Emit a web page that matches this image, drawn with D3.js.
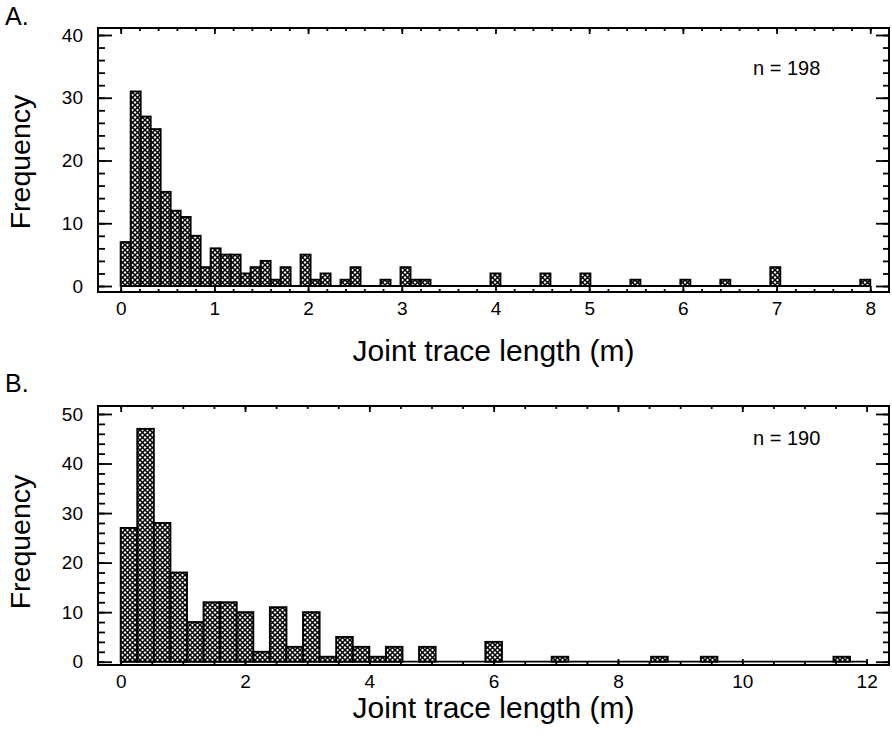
<!DOCTYPE html>
<html>
<head>
<meta charset="utf-8">
<script src="https://cdn.jsdelivr.net/npm/d3@7"></script>
<style>
	body { margin: 0; background: #fff; }
	svg { display: block; font-family: "Liberation Sans", Arial, Helvetica, sans-serif; }
</style>
</head>
<body>
<div id="chart"></div>
<script>
// panel A : 75 bins over 0-8 m
const countsA = [7, 31, 27, 25, 15, 12, 11, 8, 3, 6,
	5, 5, 2, 3, 4, 1, 3, 0, 5, 1,
	2, 0, 1, 3, 0, 0, 1, 0, 3, 1,
	1, 0, 0, 0, 0, 0, 0, 2, 0, 0,
	0, 0, 2, 0, 0, 0, 2, 0, 0, 0,
	0, 1, 0, 0, 0, 0, 1, 0, 0, 0,
	1, 0, 0, 0, 0, 3, 0, 0, 0, 0,
	0, 0, 0, 0, 1];
const rangeA = [0, 8];
const xTicksA = [0, 1, 2, 3, 4, 5, 6, 7, 8];
const yTicksA = [0, 10, 20, 30, 40];
const noteA = "n = 198";

// panel B : 45 bins over 0-12 m
const countsB = [27, 47, 28, 18, 8, 12, 12, 10, 2, 11,
	3, 10, 1, 5, 3, 1, 3, 0, 3, 0,
	0, 0, 4, 0, 0, 0, 1, 0, 0, 0,
	0, 0, 1, 0, 0, 1, 0, 0, 0, 0,
	0, 0, 0, 1, 0];
const rangeB = [0, 12];
const xTicksB = [0, 2, 4, 6, 8, 10, 12];
const yTicksB = [0, 10, 20, 30, 40, 50];
const noteB = "n = 190";

const xTitle = "Joint trace length (m)";
const yTitle = "Frequency";

const W = 892, H = 743;

const svg = d3.select("#chart").append("svg")
	.attr("width", W)
	.attr("height", H);

// crosshatch fill
const pat = svg.append("defs").append("pattern")
	.attr("id", "hatch")
	.attr("patternUnits", "userSpaceOnUse")
	.attr("width", 5)
	.attr("height", 5);
pat.append("rect").attr("width", 5).attr("height", 5).attr("fill", "#fff");
pat.append("path")
	.attr("d", "M-1,-1L6,6M6,-1L-1,6")
	.attr("stroke", "#000")
	.attr("stroke-width", 1.5);

function buildHist(cfg) {
	const box = cfg.box;
	const g = svg.append("g");

	const x = d3.scaleLinear().domain(cfg.xDomain).range([box.left, box.right]);
	const y = d3.scaleLinear().domain(cfg.yDomain).range([box.bottom, box.top]);

	const n = cfg.counts.length;
	const bw = (cfg.range[1] - cfg.range[0]) / n;
	const bins = cfg.counts.map((c, i) => ({ x0: cfg.range[0] + i * bw, x1: cfg.range[0] + (i + 1) * bw, c: c }));

	//baseline at zero
	g.append("line")
		.attr("x1", x(cfg.range[0]))
		.attr("x2", x(cfg.range[1]))
		.attr("y1", y(0))
		.attr("y2", y(0))
		.attr("stroke", "#000")
		.attr("stroke-width", 1.8);

	g.selectAll(".bar")
		.data(bins.filter(d => d.c > 0))
		.enter().append("rect")
		.attr("class", "bar")
		.attr("x", d => x(d.x0))
		.attr("y", d => y(d.c))
		.attr("width", d => x(d.x1) - x(d.x0))
		.attr("height", d => y(0) - y(d.c))
		.attr("fill", "url(#hatch)")
		.attr("stroke", "#000")
		.attr("stroke-width", 1.9);

	//frame
	g.append("rect")
		.attr("x", box.left)
		.attr("y", box.top)
		.attr("width", box.right - box.left)
		.attr("height", box.bottom - box.top)
		.attr("fill", "none")
		.attr("stroke", "#000")
		.attr("stroke-width", 2);

	const xMinor = d3.range(cfg.range[0], cfg.range[1] + 1e-9, cfg.xMinorStep);
	const yMinor = d3.range(0, d3.max(cfg.yTicks) + 1e-9, cfg.yMinorStep);

	function addAxis(axis, tf) {
		const a = g.append("g").attr("transform", tf).call(axis);
		a.select(".domain").remove();
		a.selectAll(".tick line").attr("stroke-width", 1.8);
		a.selectAll("text")
			.attr("font-size", 19)
			.attr("font-family", "'Liberation Sans', Arial, sans-serif")
			.attr("fill", "#000");
		return a;
	}

	addAxis(d3.axisBottom(x).tickValues(cfg.xTicks).tickSize(-6).tickPadding(10).tickFormat(d3.format("d")), `translate(0,${box.bottom})`);
	addAxis(d3.axisBottom(x).tickValues(xMinor).tickSize(-3).tickFormat(""), `translate(0,${box.bottom})`);
	addAxis(d3.axisTop(x).tickValues(cfg.xTicks).tickSize(-6).tickFormat(""), `translate(0,${box.top})`);
	addAxis(d3.axisTop(x).tickValues(xMinor).tickSize(-3).tickFormat(""), `translate(0,${box.top})`);

	addAxis(d3.axisLeft(y).tickValues(cfg.yTicks).tickSize(-14).tickPadding(15).tickFormat(d3.format("d")), `translate(${box.left},0)`);
	addAxis(d3.axisLeft(y).tickValues(yMinor).tickSize(-7).tickFormat(""), `translate(${box.left},0)`);
	addAxis(d3.axisRight(y).tickValues(cfg.yTicks).tickSize(-13).tickFormat(""), `translate(${box.right},0)`);
	addAxis(d3.axisRight(y).tickValues(yMinor).tickSize(-6).tickFormat(""), `translate(${box.right},0)`);

	//texts
	g.append("text")
		.attr("x", (box.left + box.right) / 2)
		.attr("y", cfg.xTitleY)
		.attr("text-anchor", "middle")
		.attr("font-size", 30)
		.text(xTitle);

	g.append("text")
		.attr("transform", `translate(30,${cfg.yTitleY}) rotate(-90)`)
		.attr("text-anchor", "middle")
		.attr("font-size", 28.5)
		.text(yTitle);

	g.append("text")
		.attr("x", 5)
		.attr("y", cfg.panelY)
		.attr("font-size", 25)
		.text(cfg.panel);

	g.append("text")
		.attr("x", 753)
		.attr("y", cfg.noteY)
		.attr("font-size", 20)
		.text(cfg.note);
}

buildHist({
	box: { left: 98, top: 28, right: 889, bottom: 292 },
	xDomain: [-0.242, 8.2],
	yDomain: [-0.956, 41.115],
	counts: countsA,
	range: rangeA,
	xTicks: xTicksA,
	yTicks: yTicksA,
	xMinorStep: 0.2,
	yMinorStep: 2,
	note: noteA,
	noteY: 75,
	panel: "A.",
	panelY: 25,
	xTitleY: 361,
	yTitleY: 162
});

buildHist({
	box: { left: 98, top: 406, right: 889, bottom: 665 },
	xDomain: [-0.365, 12.36],
	yDomain: [-0.666, 51.61],
	counts: countsB,
	range: rangeB,
	xTicks: xTicksB,
	yTicks: yTicksB,
	xMinorStep: 0.5,
	yMinorStep: 2,
	note: noteB,
	noteY: 445,
	panel: "B.",
	panelY: 392,
	xTitleY: 718,
	yTitleY: 542
});
</script>
</body>
</html>
